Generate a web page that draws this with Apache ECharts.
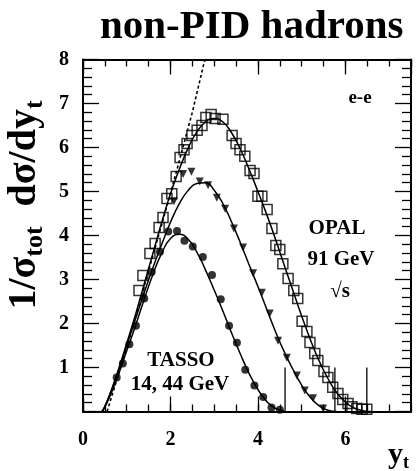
<!DOCTYPE html>
<html><head><meta charset="utf-8">
<script src="https://cdn.jsdelivr.net/npm/echarts@6/dist/echarts.min.js"></script>
<style>html,body{margin:0;padding:0;background:#fff}#c{width:418px;height:471px}</style>
</head><body><div id="c"></div>
<script>
const xTickLabels = ['0', '2', '4', '6'];
const yTickLabels = ['1', '2', '3', '4', '5', '6', '7', '8'];

const opalSquares = [[1.28,2.75],[1.37,3.09],[1.53,3.59],[1.65,3.82],[1.74,4.18],[1.83,4.41],[1.92,4.84],[2.03,4.95],[2.13,5.34],[2.22,5.77],[2.31,5.95],[2.38,6.09],[2.49,6.27],[2.61,6.39],[2.72,6.50],[2.81,6.68],[2.93,6.75],[3.02,6.66],[3.20,6.64],[3.41,6.27],[3.50,6.09],[3.59,5.95],[3.70,5.80],[3.82,5.48],[3.91,5.41],[4.00,4.89],[4.09,4.89],[4.21,4.59],[4.32,4.16],[4.41,3.77],[4.50,3.68],[4.57,3.36],[4.69,3.02],[4.82,2.75],[4.91,2.57],[5.01,2.05],[5.12,1.82],[5.19,1.57],[5.30,1.32],[5.37,1.16],[5.51,0.91],[5.60,0.77],[5.71,0.55],[5.83,0.41],[5.94,0.27],[6.06,0.18],[6.15,0.11],[6.26,0.07],[6.38,0.05],[6.49,0.05]];
const opalTriangles = [[2.08,4.78],[2.29,5.40],[2.48,5.45],[2.67,5.23],[2.86,5.14],[3.06,4.86],[3.25,4.61],[3.45,4.16],[3.66,3.73],[3.89,3.14],[4.09,2.70],[4.27,2.23],[4.46,1.61],[4.66,1.22],[4.89,0.82],[5.07,0.48],[5.26,0.30],[5.49,0.07]];
const tassoCircles = [[0.77,0.77],[0.91,1.09],[1.06,1.53],[1.21,1.95],[1.40,2.57],[1.57,3.17],[1.76,3.63],[1.95,4.09],[2.15,4.10],[2.32,3.88],[2.51,3.75],[2.74,3.51],[2.95,3.10],[3.15,2.55],[3.34,1.95],[3.52,1.56],[3.71,0.95],[3.92,0.59],[4.12,0.33],[4.31,0.09],[4.50,0.04]];

const opalSquaresFit = [[0.45,0],[0.6,0.35],[0.8,0.92],[1.0,1.55],[1.2,2.2],[1.4,2.9],[1.6,3.6],[1.8,4.3],[2.0,4.95],[2.2,5.5],[2.4,5.98],[2.6,6.35],[2.8,6.58],[3.0,6.66],[3.2,6.58],[3.4,6.33],[3.6,5.96],[3.8,5.5],[4.0,5.0],[4.2,4.48],[4.4,3.92],[4.6,3.33],[4.8,2.75],[5.0,2.17],[5.2,1.63],[5.4,1.15],[5.6,0.75],[5.8,0.43],[6.0,0.21],[6.2,0.08],[6.4,0.02],[6.6,0]];
const opalTrianglesFit = [[0.45,0],[0.6,0.35],[0.8,0.9],[1.0,1.5],[1.2,2.1],[1.4,2.7],[1.6,3.27],[1.8,3.8],[2.0,4.3],[2.2,4.72],[2.4,5.02],[2.6,5.18],[2.8,5.2],[3.0,5.03],[3.2,4.72],[3.4,4.3],[3.6,3.83],[3.8,3.33],[4.0,2.84],[4.2,2.33],[4.4,1.82],[4.6,1.36],[4.8,0.96],[5.0,0.6],[5.2,0.32],[5.4,0.13],[5.6,0.03],[5.8,0]];
const tassoFit = [[0.43,0],[0.55,0.2],[0.7,0.55],[0.85,0.95],[1.0,1.38],[1.2,1.95],[1.4,2.55],[1.6,3.12],[1.8,3.6],[2.0,3.93],[2.2,4.03],[2.4,3.92],[2.6,3.63],[2.8,3.22],[3.0,2.76],[3.2,2.28],[3.4,1.78],[3.6,1.3],[3.8,0.86],[4.0,0.5],[4.2,0.23],[4.4,0.07],[4.6,0.01]];
const dottedLine = [[0.55,0],[1.0,1.45],[1.5,3.2],[2.0,4.95],[2.5,6.8],[2.75,7.85],[2.79,8.0]];

const cutoffX = [4.62, 5.76, 6.49];
const cutoffTop = 1.0;

const FONT = "'Liberation Serif', 'Times New Roman', serif";
const chart = echarts.init(document.getElementById('c'), null, {renderer: 'canvas'});

function xAxisDef(position, interval, tickLen, withLine, withLabel) {
  return {
    type: 'value', position: position, min: 0, max: 7.5, interval: interval,
    axisLine: {show: withLine, onZero: false, lineStyle: {color: '#000', width: 2}},
    axisTick: {show: true, inside: true, length: tickLen, lineStyle: {color: '#000', width: 1.3}},
    axisLabel: {show: withLabel, margin: 18, color: '#000', fontFamily: FONT, fontWeight: 'bold', fontSize: 20,
      showMaxLabel: false,
      formatter: function (v) { const s = String(v); return xTickLabels.indexOf(s) >= 0 ? s : ''; }},
    splitLine: {show: false}
  };
}
function yAxisDef(position, withLabel) {
  return {
    type: 'value', position: position, min: 0, max: 8, interval: 1,
    axisLine: {show: true, onZero: false, lineStyle: {color: '#000', width: 2}},
    axisTick: {show: true, inside: true, length: 16, lineStyle: {color: '#000', width: 1.3}},
    minorTick: {show: true, splitNumber: 5, length: 9, lineStyle: {color: '#000', width: 1.3}},
    axisLabel: {show: withLabel, margin: 14, color: '#000', fontFamily: FONT, fontWeight: 'bold', fontSize: 20,
      formatter: function (v) { const s = String(v); return yTickLabels.indexOf(s) >= 0 ? s : ''; }},
    splitLine: {show: false}, minorSplitLine: {show: false}
  };
}

const series = [
  {type: 'line', data: dottedLine, showSymbol: false, smooth: false, xAxisIndex: 0, yAxisIndex: 0,
   lineStyle: {color: '#000', width: 1.6, type: [3, 2.5]}, clip: true, z: 2},
  {type: 'line', data: opalSquaresFit, showSymbol: false, smooth: true, lineStyle: {color: '#000', width: 1.5}, clip: true, z: 2},
  {type: 'line', data: opalTrianglesFit, showSymbol: false, smooth: true, lineStyle: {color: '#000', width: 1.5}, clip: true, z: 2},
  {type: 'line', data: tassoFit, showSymbol: false, smooth: true, lineStyle: {color: '#000', width: 1.5}, clip: true, z: 2},
  {type: 'scatter', data: opalSquares, symbol: 'rect', symbolSize: 10,
   itemStyle: {color: 'rgba(255,255,255,0)', borderColor: '#000', borderWidth: 1.5}, z: 3},
  {type: 'scatter', data: opalTriangles, symbol: 'triangle', symbolRotate: 180, symbolSize: 8,
   itemStyle: {color: '#000'}, z: 3},
  {type: 'scatter', data: tassoCircles, symbol: 'circle', symbolSize: 8,
   itemStyle: {color: '#000'}, z: 3}
];
cutoffX.forEach(function (x) {
  series.push({type: 'line', data: [[x, 0], [x, cutoffTop]], showSymbol: false,
    lineStyle: {color: '#000', width: 1.3}, z: 2});
});

function label(x, y, text, size) {
  return {type: 'text', x: x, y: y, style: {text: text, fontFamily: FONT, fontWeight: 'bold', fontSize: size, fill: '#000',
    textAlign: 'center', textVerticalAlign: 'middle', align: 'center', verticalAlign: 'middle'}};
}

const option = {
  backgroundColor: '#fff',
  animation: false,
  title: {text: 'non-PID hadrons', left: 95, top: 2,
    textStyle: {fontFamily: FONT, fontWeight: 'bold', fontSize: 41, color: '#000'}},
  grid: {left: 83, right: 7, top: 59.5, bottom: 59.5, containLabel: false},
  xAxis: [
    xAxisDef('bottom', 2, 15, true, true),
    xAxisDef('bottom', 0.5, 7, false, false),
    xAxisDef('top', 2, 15, true, false),
    xAxisDef('top', 0.5, 7, false, false)
  ],
  yAxis: [yAxisDef('left', true), yAxisDef('right', false)],
  series: series,
  graphic: [
    label(360, 98, 'e-e', 19),
    label(337, 229, 'OPAL', 21),
    label(341, 260, '91 GeV', 21),
    label(340, 292, '√s', 21),
    label(181, 361, 'TASSO', 21),
    label(180, 385, '14, 44 GeV', 21),
    {type: 'text', x: 25, y: 205, rotation: Math.PI / 2,
     style: {text: '{m|1/σ}{s|tot}{m|  dσ/dy}{s|t}', textAlign: 'center', textVerticalAlign: 'middle', align: 'center', verticalAlign: 'middle',
       rich: {
         m: {fontFamily: FONT, fontWeight: 'bold', fontSize: 40, lineHeight: 40, verticalAlign: 'top', color: '#000', fill: '#000'},
         s: {fontFamily: FONT, fontWeight: 'bold', fontSize: 26, lineHeight: 26, verticalAlign: 'top', padding: [17, 0, 0, 0], color: '#000', fill: '#000'}
       }}},
    {type: 'text', x: 388, y: 440,
     style: {text: '{m|y}{s|t}', textAlign: 'left', textVerticalAlign: 'top', align: 'left', verticalAlign: 'top',
       rich: {
         m: {fontFamily: FONT, fontWeight: 'bold', fontSize: 30, lineHeight: 30, verticalAlign: 'top', color: '#000', fill: '#000'},
         s: {fontFamily: FONT, fontWeight: 'bold', fontSize: 18, lineHeight: 18, verticalAlign: 'top', padding: [14, 0, 0, 0], color: '#000', fill: '#000'}
       }}}
  ]
};
chart.setOption(option);
</script></body></html>
